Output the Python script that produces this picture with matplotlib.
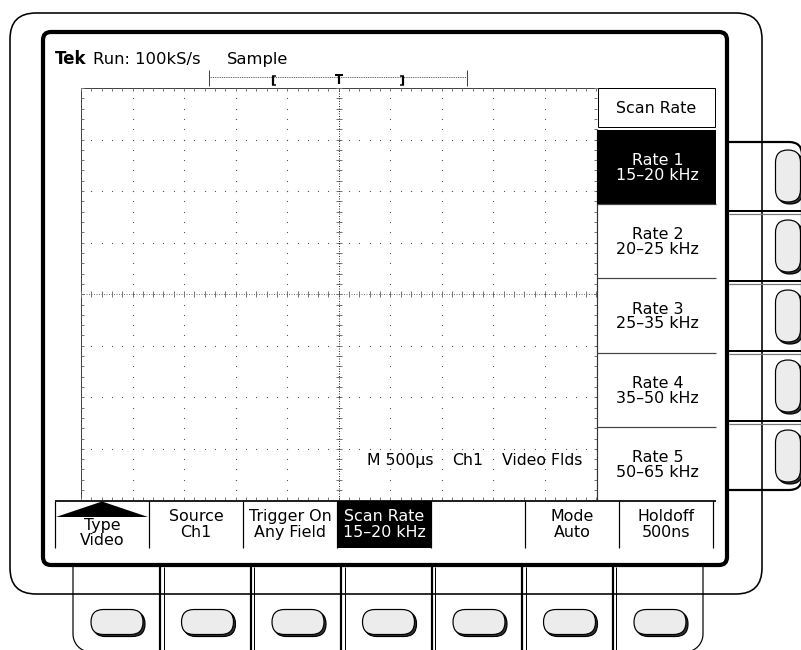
"""Oscilloscope screen: video trigger menu, Scan Rate side menu."""
import matplotlib
matplotlib.use('Agg')
import matplotlib.pyplot as plt
import numpy as np
from matplotlib.patches import FancyBboxPatch, Rectangle, Polygon
from matplotlib.collections import LineCollection

# Status line
brand = 'Tek'
run_status = 'Run: 100kS/s'
acq_mode = 'Sample'

# Readout at the bottom of the graticule
readout = ['M 500µs', 'Ch1', 'Video Flds']

# Side menu
side_title = 'Scan Rate'
rate_names = ['Rate 1', 'Rate 2', 'Rate 3', 'Rate 4', 'Rate 5']
rate_ranges = ['15–20 kHz', '20–25 kHz', '25–35 kHz', '35–50 kHz', '50–65 kHz']
side_selected = 0

# Bottom menu
bottom_top = ['Type', 'Source', 'Trigger On', 'Scan Rate', '', 'Mode', 'Holdoff']
bottom_bot = ['Video', 'Ch1', 'Any Field', '15–20 kHz', '', 'Auto', '500ns']
bottom_selected = 3

W, H = 801, 650
PT = 72 / 100          # points per pixel
FONT = 'DejaVu Sans'
FS = 11.4

fig = plt.figure(figsize=(W / 100, H / 100), dpi=100)
ax = fig.add_axes([0, 0, 1, 1])
ax.set_xlim(0, W)
ax.set_ylim(H, 0)
ax.axis('off')


def rrect(x0, y0, x1, y1, r, lw, fc='none', ec='black', z=1, clip=True):
    p = FancyBboxPatch((x0, y0), x1 - x0, y1 - y0,
                       boxstyle=f'round,pad=0,rounding_size={r}',
                       fc=fc, ec=ec, lw=lw * PT, zorder=z, clip_on=clip)
    ax.add_patch(p)
    return p


def pill(cx, cy, w, h, z=6):
    r = min(w, h) / 2
    rrect(cx - w / 2 + 2, cy - h / 2 + 2, cx + w / 2 + 2, cy + h / 2 + 2, r, 1.2,
          fc='#333333', ec='black', z=z, clip=False)
    rrect(cx - w / 2, cy - h / 2, cx + w / 2, cy + h / 2, r, 1.2,
          fc='#ececec', ec='black', z=z + 0.1, clip=False)


def seg(x0, y0, x1, y1, lw=1.0, c='black', z=3, **kw):
    ax.plot([x0, x1], [y0, y1], color=c, lw=lw * PT, zorder=z,
            solid_capstyle='butt', **kw)


# ---- bezel ----
rrect(10, 13, 762, 594, 26, 1.6, z=1)

# bottom button strip: two sides with rounded lower corners
t = np.linspace(0, np.pi / 2, 20)
r_s, y_c = 18, 634
left_x = np.r_[73, 73 + r_s - r_s * np.cos(t)]
left_y = np.r_[565, y_c + r_s * np.sin(t)]
ax.plot(left_x, left_y, color='black', lw=1.2 * PT, zorder=1)
ax.plot(776 - left_x, left_y, color='black', lw=1.2 * PT, zorder=1)

# side button column (left part hides under the screen frame)
rrect(690, 142, 802, 490, 13, 2.2, z=1, clip=False)
rrect(43, 32, 727, 565, 8, 4.2, fc='white', z=2)

# bottom buttons
btn_x = 117 + 90.5 * np.arange(7)
for i, cx in enumerate(btn_x):
    pill(cx, 622, 52, 25)
    if i < 6:
        seg(cx + 43, 567, cx + 43, H, lw=2.2, z=1.5)
        seg(cx + 46.5, 567, cx + 46.5, H, lw=1.0, z=1.5)

# side buttons
side_y = 176 + 70 * np.arange(5)
for i, cy in enumerate(side_y):
    pill(788, cy, 25, 52)
    if i < 4:
        seg(729, cy + 35, W, cy + 35, lw=2.0, z=1.5)
        seg(729, cy + 37.5, W, cy + 37.5, lw=1.2, c='#777777', z=1.5)

# ---- graticule ----
gx0, gy0, div = 81, 88, 51.55
nx, ny = 10, 8
gx1, gy1 = gx0 + nx * div, gy0 + ny * div
minor = div / 5
mx = gx0 + minor * np.arange(nx * 5 + 1)
my = gy0 + minor * np.arange(ny * 5 + 1)
gcol = '#777777'

seg(gx0, gy0, gx1, gy0, lw=1.0, c='#444444', z=3)
seg(gx0, gy0, gx0, gy1, lw=1.0, c='#444444', z=3)

ticks = []
for x in mx:
    ticks.append([(x, gy0), (x, gy0 + 3)])
    ticks.append([(x, gy1 - 3), (x, gy1)])
for y in my:
    ticks.append([(gx0, y), (gx0 + 3, y)])
    ticks.append([(gx1 - 3, y), (gx1, y)])
# center cross ticks
cx_, cy_ = gx0 + 5 * div, gy0 + 4 * div
for x in mx:
    ticks.append([(x, cy_ - 3), (x, cy_ + 3)])
for y in my:
    ticks.append([(cx_ - 3, y), (cx_ + 3, y)])
ax.add_collection(LineCollection(ticks, colors=gcol, linewidths=1.0 * PT, zorder=3))

# major dotted lines
dots_x, dots_y = [], []
for i in range(1, nx):
    if i == 5:
        continue
    x = gx0 + i * div
    dots_x += [x] * len(my)
    dots_y += list(my)
for j in range(1, ny):
    if j == 4:
        continue
    y = gy0 + j * div
    dots_x += list(mx)
    dots_y += [y] * len(mx)
ax.plot(dots_x, dots_y, ls='none', marker='s', ms=1.1 * PT, mew=0,
        color='#555555', zorder=3)

# dense center lines
ax.plot([gx0, gx1], [cy_, cy_], color=gcol, lw=1.0 * PT, ls=(0, (1, 1.5)), zorder=3)
ax.plot([cx_, cx_], [gy0, gy1], color='#333333', lw=1.0 * PT, ls=(0, (1, 1.5)), zorder=3)

# trigger position bar
ax.plot([209, 467], [77, 77], color='#444444', lw=0.9 * PT, ls=(0, (1, 1)), zorder=3)
seg(209, 70, 209, 86, lw=1.0, c='#444444')
seg(467, 70, 467, 86, lw=1.0, c='#444444')
seg(273, 76, 273, 85, lw=2.2)
seg(272, 76, 276, 76, lw=1.5)
seg(272, 85, 276, 85, lw=1.5)
seg(403, 76, 403, 85, lw=2.2)
seg(400, 76, 404, 76, lw=1.5)
seg(400, 85, 404, 85, lw=1.5)
seg(335, 75, 343, 75, lw=2.0)
seg(339, 75, 339, 84, lw=2.2)

# ---- status line ----
ax.text(55, 64, brand, fontsize=12, fontweight='bold', family=FONT, zorder=5)
ax.text(93, 64, run_status, fontsize=11.8, family=FONT, zorder=5)
ax.text(227, 64, acq_mode, fontsize=11.8, family=FONT, zorder=5)

# readout
for x, txt in zip([367, 452, 502], readout):
    ax.text(x, 465, txt, fontsize=11.3, family=FONT, zorder=5)

# ---- side menu ----
mx0, mx1 = 597, 716
ax.add_patch(Rectangle((598, 88), 117, 39, fc='white', ec='black', lw=1.0 * PT, zorder=4))
ax.text((mx0 + mx1) / 2, 113, side_title, fontsize=FS, family=FONT, ha='center', zorder=5)
seg(mx0, 129, mx0, gy1, lw=1.2, c='#333333', z=4)
rate_h = (501 - 130) / len(rate_names)
for k, (nm, rg) in enumerate(zip(rate_names, rate_ranges)):
    top = 130 + k * rate_h
    mid = top + rate_h / 2
    col = 'black'
    if k == side_selected:
        ax.add_patch(Rectangle((mx0, top), mx1 - mx0, rate_h, fc='black', ec='none', zorder=4))
        col = 'white'
    elif k > 0:
        seg(mx0, top, mx1, top, lw=1.2, c='#444444', z=4)
    ax.text((mx0 + mx1) / 2 + 1, mid - 2, nm, fontsize=FS, family=FONT,
            ha='center', color=col, zorder=5)
    ax.text((mx0 + mx1) / 2 + 1, mid + 13, rg, fontsize=FS, family=FONT,
            ha='center', color=col, zorder=5)

# ---- bottom menu ----
seg(55, 500.5, 716, 500.5, lw=2.0, c='#222222', z=4)
cell_w = 94.0
edges = 55 + cell_w * np.arange(len(bottom_top) + 1)
for e in edges:
    seg(e, 501, e, 548, lw=1.2, z=4)
for i, (t1, t2) in enumerate(zip(bottom_top, bottom_bot)):
    cx = edges[i] + cell_w / 2
    col = 'black'
    if i == bottom_selected:
        ax.add_patch(Rectangle((edges[i], 501), cell_w, 47, fc='black', ec='none', zorder=4.5))
        col = 'white'
    if i == 0:
        ax.add_patch(Polygon([(edges[0] + 1, 517), (cx, 501.5), (edges[1] - 1, 517)],
                             closed=True, fc='black', ec='none', zorder=5))
        ax.text(cx, 530, t1, fontsize=FS, family=FONT, ha='center', zorder=5)
        ax.text(cx, 545, t2, fontsize=FS, family=FONT, ha='center', zorder=5)
        continue
    ax.text(cx, 521, t1, fontsize=FS, family=FONT, ha='center', color=col, zorder=5)
    ax.text(cx, 537, t2, fontsize=FS, family=FONT, ha='center', color=col, zorder=5)

fig.savefig('out.png', dpi=100)
plt.close(fig)
